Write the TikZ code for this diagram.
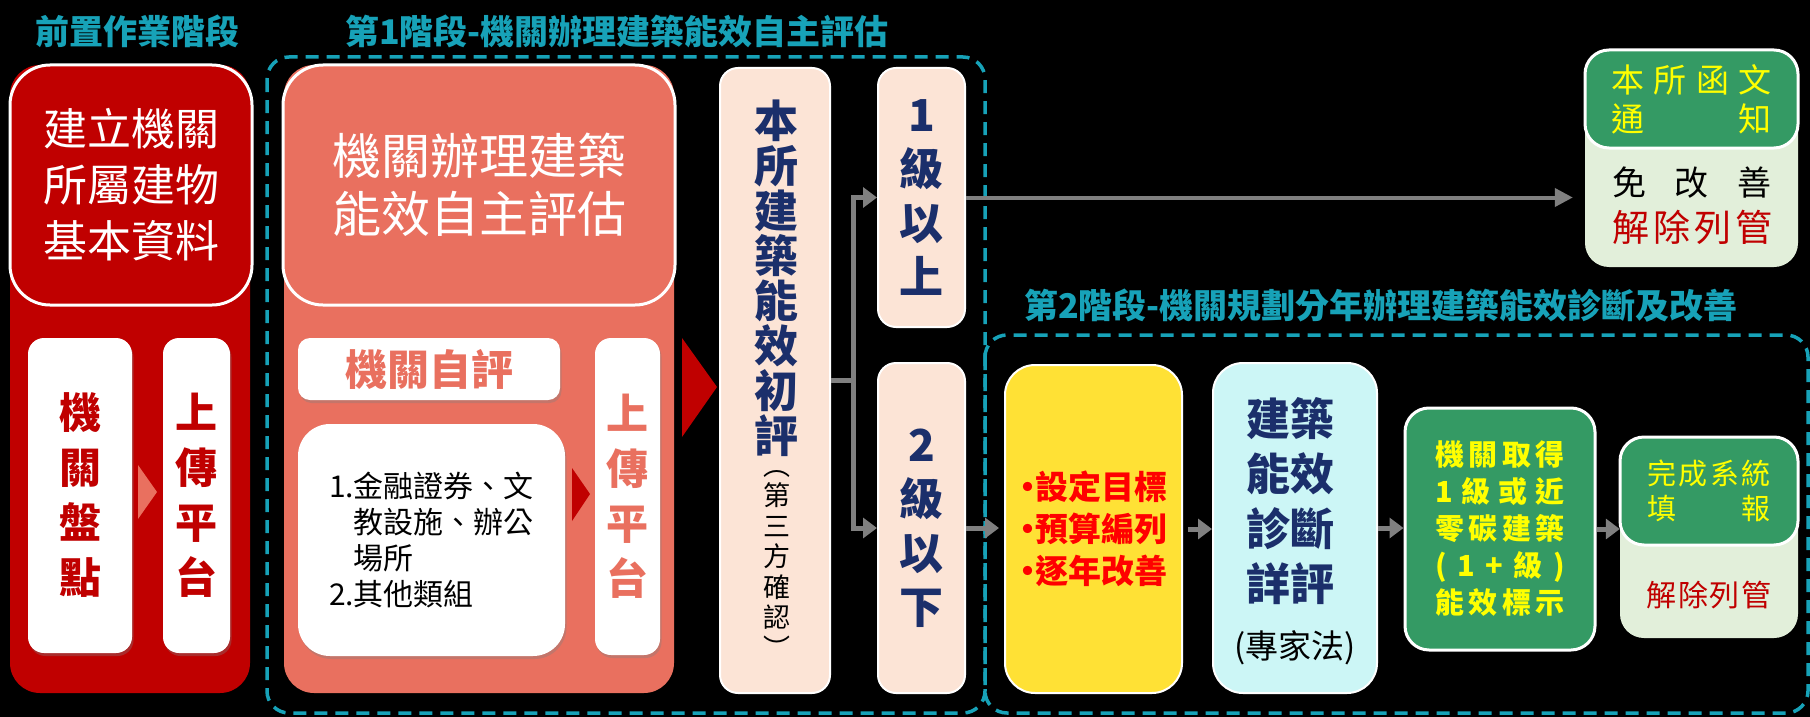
\documentclass[tikz,border=0pt]{standalone}
\usepackage{fontspec}
\setmainfont{Noto Sans CJK TC}
\usetikzlibrary{arrows.meta,shadows}

\definecolor{prepred}{HTML}{C00000}
\definecolor{coral}{HTML}{E9705F}
\definecolor{peach}{HTML}{FCE4D6}
\definecolor{navy}{HTML}{1B2F6B}
\definecolor{stageteal}{HTML}{17A2B8}
\definecolor{leafgreen}{HTML}{349A64}
\definecolor{palegreen}{HTML}{E2EFDA}
\definecolor{goalyellow}{HTML}{FFE135}
\definecolor{paleaqua}{HTML}{CCF6F6}
\definecolor{signyellow}{HTML}{FFFF00}
\definecolor{flowgray}{HTML}{808080}

\newcommand{\fsz}[2]{\fontsize{#1pt}{#2pt}\selectfont}
\newcommand{\spreadrow}[2]{\makebox[#1][s]{#2}}
\newcommand{\dotmark}{\makebox[16pt]{•}}

\begin{document}
\begin{tikzpicture}[x=1pt, y=-1pt,
    stagetitle/.style={text=stageteal, font={\fsz{34}{40}\bfseries}, inner sep=0pt},
    frame/.style={draw=stageteal, line width=3.5pt, dash pattern=on 13pt off 8pt, rounded corners=22pt},
    column/.style={rounded corners=30pt, inner sep=0pt},
    headbox/.style={draw=white, line width=3pt, rounded corners=40pt, inner sep=0pt, align=center, text=white},
    card/.style={fill=white, rounded corners=16pt, inner sep=0pt, align=center,
      drop shadow={shadow xshift=1.5pt, shadow yshift=-3pt, opacity=.35}},
    tallword/.style={font={\fsz{42}{55}\bfseries}},
    peachbox/.style={fill=peach, draw=white, line width=2pt, rounded corners=18pt, inner sep=0pt, align=center,
      text=navy, font={\fsz{44}{54}\bfseries}},
    greenbox/.style={fill=leafgreen, draw=white, line width=3pt, rounded corners=24pt, inner sep=0pt, align=center,
      text=signyellow},
    palebox/.style={fill=palegreen, rounded corners=24pt, inner sep=0pt},
    stepcard/.style={draw=white, line width=2pt, rounded corners=30pt, inner sep=0pt, align=center},
    plain/.style={inner sep=0pt, align=center},
    link/.style={-{Triangle[length=14pt,width=20pt]}, line width=5pt, draw=flowgray},
    longlink/.style={-{Triangle[length=18pt,width=18pt]}, line width=4pt, draw=flowgray}
  ]
  \fill[black] (0,0) rectangle (1810,717);
  \useasboundingbox (0,0) rectangle (1810,717);

  \node[stagetitle] (preptitle) at (137,31) {前置作業階段};
  \node[stagetitle] (titleA) at (617,31) {第1階段-機關辦理建築能效自主評估};
  \node[stagetitle] (titleB) at (1381,306) {第2階段-機關規劃分年辦理建築能效診斷及改善};

  \draw[frame] (267,57) rectangle (985,713);
  \draw[frame] (985,335) rectangle (1808,713);

  \node[column, fill=prepred, minimum width=240pt, minimum height=628pt] (prepcol) at (130,379) {};
  \node[headbox, fill=prepred, minimum width=242pt, minimum height=240pt, font={\fsz{44}{56}}] (prephead) at (131,185) {建立機關\\所屬建物\\基本資料};
  \node[card, tallword, text=prepred, minimum width=104pt, minimum height=315pt] (stocktake) at (80,495.5) {機\\關\\盤\\點};
  \node[card, tallword, text=prepred, minimum width=67pt, minimum height=315pt] (uploadA) at (196.5,495.5) {上\\傳\\平\\台};
  \fill[coral] (138,465) -- (157,492) -- (138,519) -- cycle;

  \node[column, fill=coral, minimum width=390pt, minimum height=628pt] (selfcol) at (479,379) {};
  \node[headbox, fill=coral, minimum width=392pt, minimum height=240pt, font={\fsz{49}{58}}] (selfhead) at (479,185) {機關辦理建築\\能效自主評估};
  \node[card, rounded corners=12pt, text=coral, font={\fsz{42}{50}\bfseries}, minimum width=262pt, minimum height=62pt] (selfeval) at (429,369) {機關自評};
  \node[card, rounded corners=32pt, align=left, font={\fsz{30}{36}}, minimum width=267pt, minimum height=232pt] (category) at (431.5,540) {1.金融證券、文\\\hphantom{1.}教設施、辦公\\\hphantom{1.}場所\\2.其他類組};
  \node[card, tallword, text=coral, minimum width=65pt, minimum height=317pt] (uploadB) at (627.5,496.5) {上\\傳\\平\\台};
  \fill[prepred] (572,468) -- (590,494) -- (572,521) -- cycle;
  \fill[prepred] (682,338) -- (717,387) -- (682,437) -- cycle;

  \node[peachbox, minimum width=110pt, minimum height=625pt] (prelim) at (775,380.5) {};
  \node[plain, text=navy, font={\fsz{44}{45}\bfseries}] (prelimtext) at (776,278) {本\\所\\建\\築\\能\\效\\初\\評};
  \node[plain, font={\fsz{27}{30.5}}] (thirdparty) at (777,564) {︵\\第\\三\\方\\確\\認\\︶};
  \node[peachbox, minimum width=87pt, minimum height=259pt] (lvlup) at (921.5,197.5) {1\\級\\以\\上};
  \node[peachbox, minimum width=87pt, minimum height=330pt] (lvldown) at (921.5,528) {2\\級\\以\\下};

  \node[palebox, minimum width=213pt, minimum height=217pt] (notify) at (1691.5,158.5) {};
  \node[greenbox, font={\fsz{33}{39}}, minimum width=213pt, minimum height=98pt] (notifyhead) at (1691.5,99) {\spreadrow{160pt}{本\hfill 所\hfill 函\hfill 文}\\\spreadrow{160pt}{通\hfill 知}};
  \node[plain, font={\fsz{34}{40}}] (exempt) at (1692,183) {\spreadrow{160pt}{免\hfill 改\hfill 善}};
  \node[plain, text=prepred, font={\fsz{37}{40}}] (delistA) at (1692,227) {\spreadrow{160pt}{解\hfill 除\hfill 列\hfill 管}};

  \node[stepcard, fill=goalyellow, text=red, font={\fsz{33}{42}\bfseries}, minimum width=177pt, minimum height=328pt] (goals) at (1093.5,529) {\dotmark 設定目標\\\dotmark 預算編列\\\dotmark 逐年改善};
  \node[stepcard, fill=paleaqua, minimum width=164pt, minimum height=330pt] (diagnosis) at (1295,528) {};
  \node[plain, text=navy, font={\fsz{44}{55}\bfseries}] (diagtext) at (1290,501) {建築\\能效\\診斷\\詳評};
  \node[plain, font={\fsz{33}{40}}] (expert) at (1295,648) {(專家法)};
  \node[greenbox, font={\fsz{29}{37}\bfseries}, minimum width=190pt, minimum height=242pt] (certify) at (1500,529) {\spreadrow{130pt}{機\hfill 關\hfill 取\hfill 得}\\\spreadrow{130pt}{1\hfill 級\hfill 或\hfill 近}\\\spreadrow{130pt}{零\hfill 碳\hfill 建\hfill 築}\\\spreadrow{130pt}{(\hfill 1\hfill +\hfill 級\hfill )}\\\spreadrow{130pt}{能\hfill 效\hfill 標\hfill 示}};
  \node[palebox, minimum width=178pt, minimum height=201pt] (donebg) at (1709,537.5) {};
  \node[greenbox, font={\fsz{29}{35}}, minimum width=178pt, minimum height=108pt] (donehead) at (1709,491) {\spreadrow{123pt}{完\hfill 成\hfill 系\hfill 統}\\\spreadrow{123pt}{填\hfill 報}};
  \node[plain, text=prepred, font={\fsz{30}{36}}] (delistB) at (1709,595) {\spreadrow{125pt}{解\hfill 除\hfill 列\hfill 管}};

  \path (prelim.east) ++(22,0) coordinate (fork);
  \draw[line width=5pt, flowgray] (prelim.east) -- (fork);
  \draw[link] (fork) |- (lvlup.west);
  \draw[link] (fork) |- (lvldown.west);
  \draw[longlink, shorten >=12pt] (lvlup.east) -- (lvlup.east -| notify.west);
  \draw[link, shorten >=5pt] (lvldown.east) -- (lvldown.east -| goals.west);
  \draw[link, shorten <=5pt] (goals.east) -- (goals.east -| diagnosis.west);
  \draw[link] (diagnosis.east) -- (diagnosis.east -| certify.west);
  \draw[link] (certify.east) -- (certify.east -| donebg.west);
\end{tikzpicture}
\end{document}
